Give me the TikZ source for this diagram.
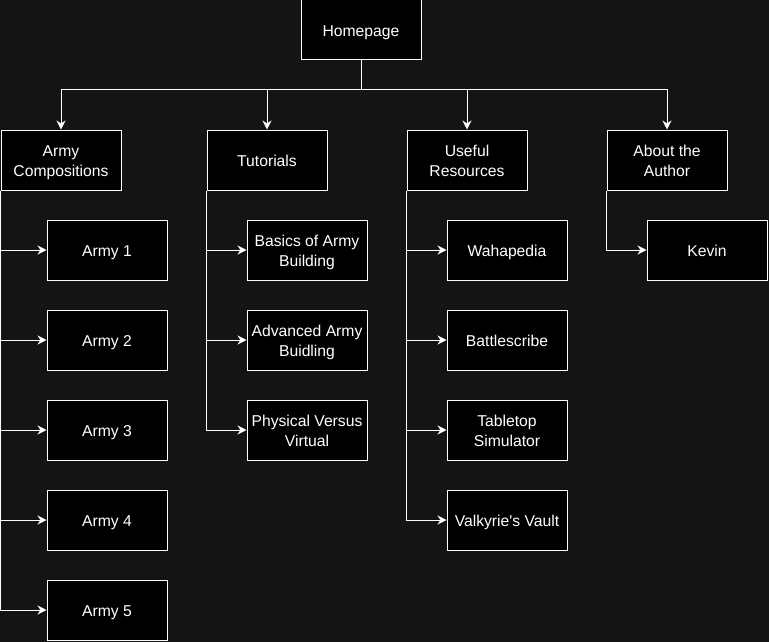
\documentclass[tikz,border=0pt]{standalone}
\usepackage{fontspec}
\setmainfont{Liberation Sans}
\usetikzlibrary{arrows.meta}
\definecolor{bg}{HTML}{141414}
\newcommand\bxs{\rule[-3.4pt]{0pt}{20pt}}
\tikzset{
  box/.style={draw=white, fill=black, line width=1pt, minimum width=120pt, minimum height=60pt,
    inner sep=0pt, align=center, text=white, font=\fontsize{15.7}{20}\selectfont},
  arr/.style={draw=white, line width=1pt, -{Stealth[length=9pt,width=9pt,inset=3pt]}}
}
\begin{document}
\begin{tikzpicture}[x=1pt,y=-1pt]
\fill[bg] (0,0) rectangle (769,642);
\useasboundingbox (0,0) rectangle (769,642);
\node[box] (home) at (361,30) {\bxs Homepage};
\node[box] (armyc) at (61,160) {\bxs Army\\\bxs Compositions};
\node[box] (tut) at (267,160) {\bxs Tutorials};
\node[box] (res) at (467,160) {\bxs Useful\\\bxs Resources};
\node[box] (about) at (667,160) {\bxs About the\\\bxs Author};
\node[box] (a1) at (107,250) {\bxs Army 1};
\node[box] (a2) at (107,340) {\bxs Army 2};
\node[box] (a3) at (107,430) {\bxs Army 3};
\node[box] (a4) at (107,520) {\bxs Army 4};
\node[box] (a5) at (107,610) {\bxs Army 5};
\node[box] (t1) at (307,250) {\bxs Basics of Army\\\bxs Building};
\node[box] (t2) at (307,340) {\bxs Advanced Army\\\bxs Buidling};
\node[box] (t3) at (307,430) {\bxs Physical Versus\\\bxs Virtual};
\node[box] (r1) at (507,250) {\bxs Wahapedia};
\node[box] (r2) at (507,340) {\bxs Battlescribe};
\node[box] (r3) at (507,430) {\bxs Tabletop\\\bxs Simulator};
\node[box] (r4) at (507,520) {\bxs Valkyrie\textquotesingle s Vault};
\node[box] (k) at (707,250) {\bxs Kevin};
\coordinate (hub) at (361,90);
\foreach \c in {armyc,tut,res,about}{
  \draw[arr] (home.south) -- (hub) -| (\c.north);
}
\foreach \c in {a1,a2,a3,a4,a5}{
  \draw[arr] (armyc.south west) |- (\c.west);
}
\foreach \c in {t1,t2,t3}{
  \draw[arr] (tut.south west) |- (\c.west);
}
\foreach \c in {r1,r2,r3,r4}{
  \draw[arr] (res.south west) |- (\c.west);
}
\draw[arr] (about.south west) |- (k.west);
\end{tikzpicture}
\end{document}
